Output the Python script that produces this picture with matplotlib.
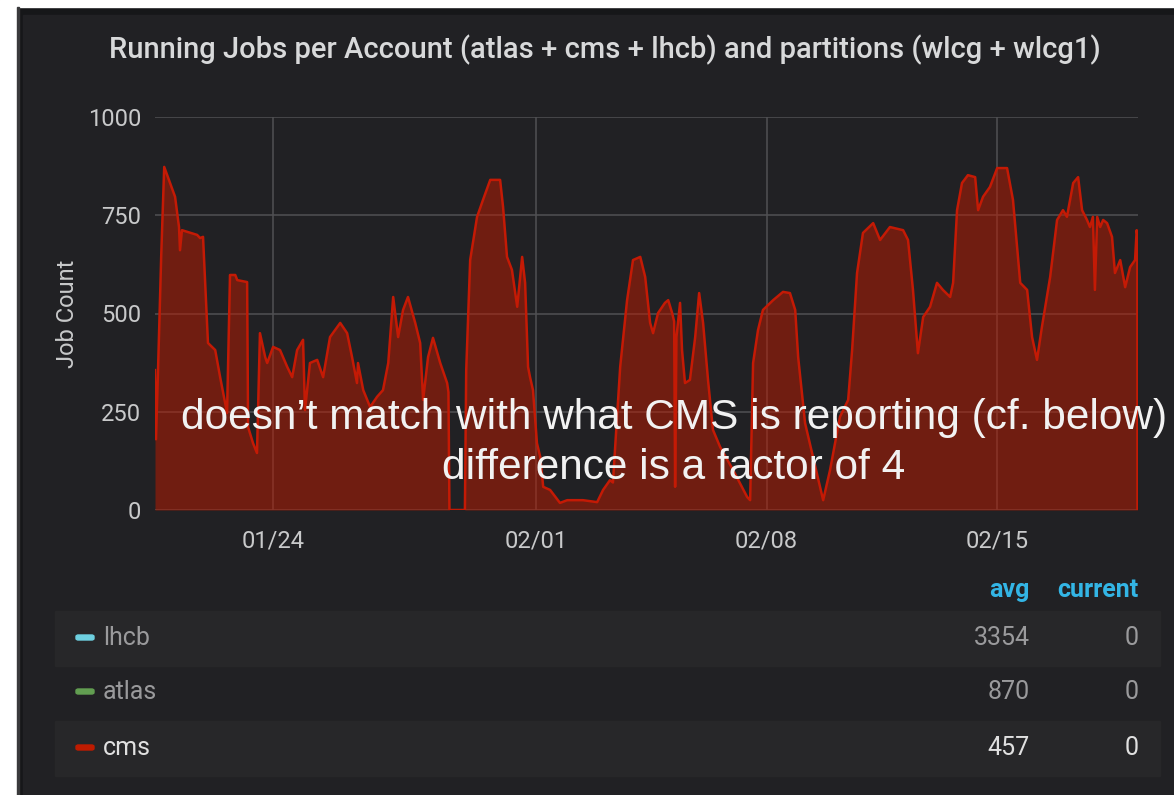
import datetime as dt
import matplotlib
matplotlib.use("Agg")
import matplotlib.pyplot as plt
from matplotlib.patches import Rectangle, FancyBboxPatch

# ---- data (time in "day of January", e.g. 32 = 02/01) ----
cms_days = [20.41, 20.44, 20.50, 20.60, 20.69, 21.02, 21.14, 21.17, 21.23, 21.69, 21.78, 21.87,
            22.02, 22.24, 22.39, 22.60, 22.69, 22.85, 22.91, 23.21, 23.24, 23.39, 23.51, 23.60,
            23.76, 23.82, 24.00, 24.21, 24.43, 24.58, 24.73, 24.91, 24.97, 25.12, 25.34, 25.52,
            25.73, 26.04, 26.25, 26.40, 26.55, 26.58, 26.74, 26.95, 27.16, 27.34, 27.50, 27.65,
            27.80, 27.95, 28.10, 28.32, 28.47, 28.56, 28.71, 28.86, 29.08, 29.29, 29.33, 29.36,
            29.83, 29.87, 29.99, 30.20, 30.38, 30.60, 30.90, 30.99, 31.11, 31.26, 31.42, 31.57,
            31.66, 31.75, 31.81, 31.90, 32.02, 32.12, 32.21, 32.42, 32.72, 32.94, 33.42, 33.85,
            34.03, 34.24, 34.33, 34.55, 34.76, 34.94, 35.16, 35.31, 35.46, 35.55, 35.70, 35.91,
            36.01, 36.13, 36.19, 36.22, 36.26, 36.37, 36.43, 36.52, 36.67, 36.83, 36.95, 37.07,
            37.22, 37.37, 37.59, 37.98, 38.41, 38.50, 38.59, 38.74, 38.89, 39.20, 39.50, 39.71,
            39.87, 39.96, 40.17, 40.41, 40.72, 40.93, 41.23, 41.48, 41.60, 41.75, 41.93, 42.24,
            42.45, 42.75, 43.15, 43.30, 43.45, 43.60, 43.76, 43.97, 44.18, 44.36, 44.58, 44.67,
            44.79, 44.94, 45.12, 45.34, 45.43, 45.58, 45.79, 46.01, 46.31, 46.49, 46.71, 46.92,
            47.07, 47.22, 47.37, 47.62, 47.83, 48.01, 48.13, 48.32, 48.47, 48.59, 48.74, 48.83,
            48.92, 48.98, 49.05, 49.14, 49.23, 49.35, 49.50, 49.59, 49.75, 49.90, 50.05, 50.20,
            50.25, 50.27, 50.275]
cms_jobs = [356, 180, 350, 650, 873, 797, 720, 661, 712, 700, 692, 695,
            425, 407, 338, 247, 598, 598, 585, 580, 211, 170, 145, 450,
            389, 374, 415, 407, 364, 338, 407, 433, 254, 374, 382, 338,
            440, 476, 450, 389, 323, 374, 305, 262, 288, 305, 374, 542,
            440, 509, 542, 476, 425, 280, 389, 438, 374, 323, 300, 0,
            0, 356, 636, 746, 789, 840, 840, 771, 644, 611, 517, 644,
            578, 364, 338, 305, 170, 135, 59, 51, 18, 25, 25, 20,
            51, 76, 70, 364, 534, 636, 644, 593, 476, 450, 501, 527,
            534, 501, 480, 59, 440, 527, 407, 323, 331, 440, 552, 476,
            331, 204, 160, 102, 33, 25, 374, 458, 509, 534, 555, 552,
            509, 389, 221, 135, 25, 102, 237, 280, 407, 603, 705, 730,
            687, 720, 712, 687, 560, 399, 491, 517, 578, 560, 542, 578,
            763, 832, 852, 847, 763, 797, 822, 870, 870, 789, 578, 560,
            440, 382, 466, 593, 738, 763, 746, 832, 847, 763, 738, 720,
            746, 560, 746, 720, 738, 730, 695, 603, 636, 567, 618, 636,
            712, 700, 0]

y_ticks = [0, 250, 500, 750, 1000]
x_tick_days = [24, 32, 39, 46]
x_tick_labels = ["01/24", "02/01", "02/08", "02/15"]

legend_names = ["lhcb", "atlas", "cms"]
legend_colors = ["#6ed0e0", "#629e51", "#bf1b00"]
legend_avg = ["3354", "870", "457"]
legend_current = ["0", "0", "0"]

title = "Running Jobs per Account (atlas + cms + lhcb) and partitions (wlcg + wlcg1)"
note_lines = ["doesn\u2019t match with what CMS is reporting (cf. below)",
              "difference is a factor of 4"]

BASE = dt.datetime(2018, 12, 31)
def to_date(d):
    return BASE + dt.timedelta(days=d)

times = [to_date(d) for d in cms_days]

# ---- figure ----
W, H = 1174, 795
plt.rcParams['font.family'] = ['Roboto', 'DejaVu Sans']
fig = plt.figure(figsize=(W / 100, H / 100), dpi=100, facecolor="#161719")

def fx(px):
    return px / W
def fy(py):
    return 1 - py / H

# white margins + panel
fig.patches.append(Rectangle((0, 0), fx(17), 1, transform=fig.transFigure, color="white", zorder=-5))
fig.patches.append(Rectangle((0, fy(7)), 1, 7 / H, transform=fig.transFigure, color="white", zorder=-5))
fig.patches.append(Rectangle((fx(17), 0), 2 / W, fy(7), transform=fig.transFigure, color="#3a3a3c", zorder=-5))
fig.patches.append(Rectangle((fx(23), 0), 1 - fx(23), fy(15), transform=fig.transFigure,
                             color="#212124", zorder=-5))

ax = fig.add_axes([fx(155), fy(510), fx(1138) - fx(155), fy(117) - fy(510)], zorder=5)
ax.set_facecolor("none")
ax.fill_between(times, cms_jobs, 0, color="#bf1b00", alpha=0.5, linewidth=0, zorder=2)
ax.plot(times, cms_jobs, color="#c41a05", linewidth=1.8, zorder=3)

ax.set_ylim(0, 1000)
ax.set_xlim(to_date(20.41), to_date(50.29))
ax.set_yticks(y_ticks)
ax.set_xticks([to_date(d) for d in x_tick_days])
ax.set_xticklabels(x_tick_labels)
ax.grid(True, color="#505053", linewidth=1.1, zorder=1)
ax.set_axisbelow(True)
for s in ax.spines.values():
    s.set_visible(False)
ax.tick_params(axis="both", length=0, colors="#c8c9ca", labelsize=17)
ax.tick_params(axis="y", pad=10)
ax.tick_params(axis="x", pad=14)
ax.set_ylabel("Job Count", color="#c8c9ca", fontsize=17, labelpad=6)

# title
fig.text(fx(605), fy(50), title, ha="center", va="center", color="#d8d9da",
         fontsize=21, fontweight="medium")

# annotation
for txt, yp in zip(note_lines, [418, 468]):
    fig.text(fx(674), fy(yp), txt, ha="center", va="center", color="#f2f2f2",
             fontsize=30.5, family=["Liberation Sans", "DejaVu Sans"], zorder=10)

# legend table
fig.text(fx(1030), fy(590), "avg", ha="right", va="center", color="#33b5e5",
         fontsize=18, fontweight="bold")
fig.text(fx(1139), fy(590), "current", ha="right", va="center", color="#33b5e5",
         fontsize=18, fontweight="bold")
row_y = [638, 692, 748]
for i, (name, col, avg, cur) in enumerate(zip(legend_names, legend_colors, legend_avg, legend_current)):
    yc = row_y[i]
    if i % 2 == 0:
        fig.patches.append(Rectangle((fx(55), fy(yc + 28)), fx(1160) - fx(55), 55 / H,
                                     transform=fig.transFigure, color="#272729", zorder=-4))
    fig.patches.append(FancyBboxPatch((fx(76), fy(yc + 2)), 18 / W, 5 / H,
                                      boxstyle="round,pad=0,rounding_size=0.002",
                                      transform=fig.transFigure, color=col, zorder=1))
    tcol = "#e0e0e0" if name == "cms" else "#9a9a9c"
    fig.text(fx(103), fy(yc), name, ha="left", va="center", color=tcol, fontsize=18)
    fig.text(fx(1030), fy(yc), avg, ha="right", va="center", color=tcol, fontsize=18)
    fig.text(fx(1139), fy(yc), cur, ha="right", va="center", color=tcol, fontsize=18)

fig.savefig("out.png", dpi=100, facecolor=fig.get_facecolor())
